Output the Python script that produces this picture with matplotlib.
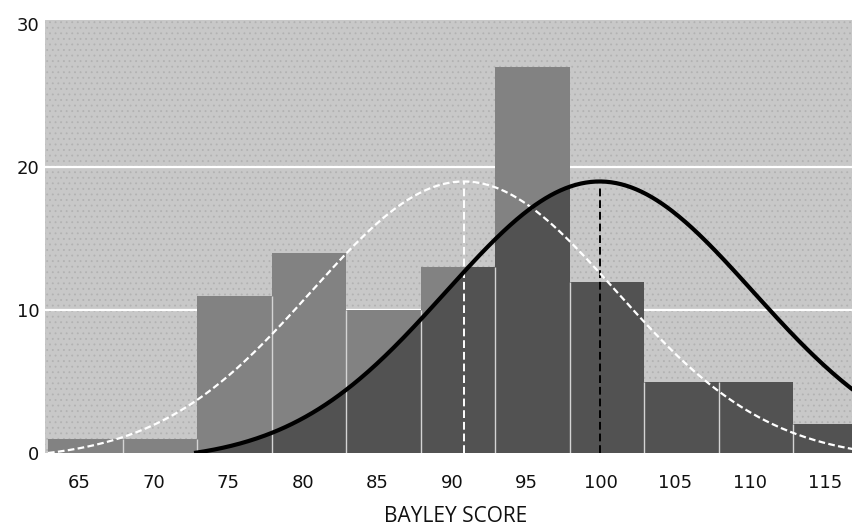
import numpy as np
import matplotlib
matplotlib.use('Agg')
import matplotlib.pyplot as plt
from matplotlib.patches import Polygon, Rectangle
from matplotlib.transforms import ScaledTranslation

# histogram of scores (bin centres, counts)
bin_centres = [65, 70, 75, 80, 85, 90, 95, 100, 105, 110, 115]
counts = [1, 1, 11, 14, 10, 13, 27, 12, 5, 5, 2]
bin_width = 5

# two normal curves: white dashed (sample) and black solid (norm)
white_mean, white_sd, white_peak = 90.4, 10.2, 19
black_mean, black_sd, black_peak = 99.5, 10.3, 19
white_start = 62.5
black_start = 72.3

y_ticks = [0, 10, 20, 30]
x_ticks = [65, 70, 75, 80, 85, 90, 95, 100, 105, 110, 115]
x_label = 'BAYLEY SCORE'

bg_color = '#c8c8c8'
bar_light = '#828282'
bar_dark = '#525252'


#normal curve that starts on the baseline and keeps its peak height
def normal_curve(x, mean, sd, peak):
    g = np.exp(-0.5 * ((x - mean) / sd) ** 2)
    g0 = g[0]
    return peak * (g - g0) / (1 - g0)


fig = plt.figure(figsize=(8.53, 5.29), dpi=100)
ax = fig.add_axes([45 / 853, 1 - 453 / 529, 808 / 853, 433 / 529])
ax.set_xlim(62.3, 116.5)
ax.set_ylim(0, 30.3)
for s in ax.spines.values():
    s.set_visible(False)

#stippled background
ax.set_facecolor(bg_color)
plt.rcParams['hatch.linewidth'] = 0.6
ax.add_patch(Rectangle((0, 0), 1, 1, transform=ax.transAxes, facecolor=bg_color,
                       edgecolor='#b2b2b2', hatch='...', linewidth=0, zorder=0))

#white grid lines
for yv in y_ticks[1:3]:
    ax.axhline(yv, color='white', lw=1.6, zorder=0.5)

#light bars
ax.bar(bin_centres, counts, width=bin_width, color=bar_light, linewidth=0, zorder=1)

#dark part of the bars under the black curve
xs_black = np.linspace(black_start, 117.5, 400)
ys_black = normal_curve(xs_black, black_mean, black_sd, black_peak)
poly_pts = np.vstack([np.column_stack([xs_black, ys_black]),
                      [[xs_black[-1], 0], [xs_black[0], 0]]])
clip_poly = Polygon(poly_pts, closed=True, fill=False, linewidth=0, visible=False)
ax.add_patch(clip_poly)
dark_bars = ax.bar(bin_centres, counts, width=bin_width, color=bar_dark,
                   linewidth=0, zorder=1.1)
for b in dark_bars:
    b.set_clip_path(clip_poly)

#thin light separators between bars
edges = np.array(bin_centres[:-1]) + bin_width / 2
sep_heights = np.minimum(counts[:-1], counts[1:])
ax.vlines(edges, 0, sep_heights, color='#d4d4d4', lw=1.0, zorder=1.2)

#mean lines
ax.vlines(white_mean, 0, white_peak, color='white', lw=1.4, linestyles=(0, (4, 2)), zorder=2)
ax.vlines(black_mean, 0, black_peak - 0.4, color='black', lw=1.4, linestyles=(0, (4, 2)), zorder=2)

#curves
xs_white = np.linspace(white_start, 117.5, 400)
ax.plot(xs_white, normal_curve(xs_white, white_mean, white_sd, white_peak),
        color='white', lw=1.6, linestyle=(0, (3, 1.5)), zorder=3)
ax.plot(xs_black, ys_black, color='black', lw=3.0, solid_capstyle='butt', zorder=4)

#ticks and labels
ax.set_yticks(y_ticks)
ax.set_xticks(x_ticks)
ax.tick_params(length=0, labelsize=13, colors='#111111')
ax.tick_params(axis='x', pad=15)
ax.tick_params(axis='y', pad=4)
offset = ScaledTranslation(-6 / 100, 0, fig.dpi_scale_trans)
for lab in ax.get_xticklabels():
    lab.set_transform(lab.get_transform() + offset)

fig.text(456 / 853, 1 - 516 / 529, x_label, ha='center', va='center',
         fontsize=15, family=['Open Sans', 'DejaVu Sans'], color='#111111')

fig.savefig('out.png', dpi=100)
